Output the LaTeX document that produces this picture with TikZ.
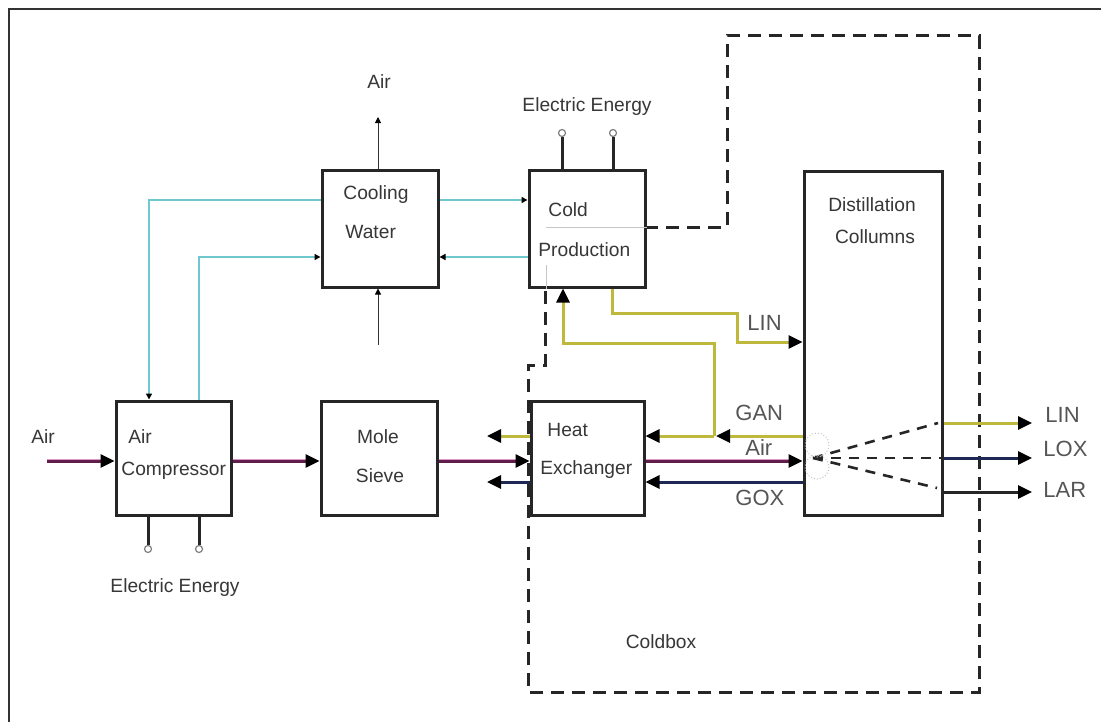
\documentclass[tikz,border=0pt]{standalone}
\usepackage{fontspec}
\setmainfont{Liberation Sans}
\usetikzlibrary{arrows.meta}
\definecolor{txt}{RGB}{55,55,55}
\definecolor{airc}{RGB}{95,30,75}
\definecolor{airglow}{RGB}{225,150,200}
\definecolor{yelc}{RGB}{190,185,60}
\definecolor{navyc}{RGB}{30,40,85}
\definecolor{cyanc}{RGB}{110,200,205}
\tikzset{
 box/.style={draw=black!85, line width=1.5pt, fill=white, inner sep=0pt},
 lbl/.style={text=txt, font=\fontsize{9.6}{11}\selectfont, inner sep=0pt},
 slbl/.style={text=txt!85, font=\fontsize{11}{13}\selectfont, inner sep=0pt},
 bigtip/.style={-{Triangle[length=7pt,width=6.5pt,color=black]}},
 smalltip/.style={-{Triangle[length=3pt,width=3pt,color=black]}},
 airline/.style={line width=1.5pt, draw=airc, preaction={draw=airglow, line width=2.4pt, -, shorten >=6pt}},
 yline/.style={line width=1.5pt, draw=yelc},
 nline/.style={line width=1.5pt, draw=navyc},
 cline/.style={line width=1.2pt, draw=cyanc},
 coldbox/.style={line width=1.5pt, draw=black!85, dash pattern=on 6.5pt off 4pt},
 fan/.style={line width=1.3pt, draw=black!85, dash pattern=on 5pt off 4pt},
 wire/.style={line width=1.3pt, draw=black!85},
 thinw/.style={line width=0.5pt, draw=black!80},
 term/.style={circle, draw=gray, fill=white, line width=0.6pt, minimum size=3.5pt, inner sep=0pt},
}
\begin{document}
\begin{tikzpicture}[x=0.5pt,y=-0.5pt]
\useasboundingbox (0,0) rectangle (1101,722);
\fill[white] (0,0) rectangle (1101,722);
\draw[line width=1pt, black!80] (9,722) -- (9,9) -- (1101,9);

% coldbox boundary
\draw[coldbox] (645,227) -- (727,227) -- (727,36) -- (979,36) -- (979,692)
  -- (528,692) -- (528,365) -- (545,365) -- (545,287);

% boxes
\node[box, minimum width=57.5pt, minimum height=57pt] (ac) at (173.5,458) {};
\node[box, minimum width=58pt, minimum height=57pt] (ms) at (379,458) {};
\node[box, minimum width=56.5pt, minimum height=57pt] (hx) at (587.5,458) {};
\node[box, minimum width=58pt, minimum height=58.5pt] (cw) at (380,228.5) {};
\node[box, minimum width=58pt, minimum height=58.5pt] (cp) at (587,228.5) {};
\node[box, minimum width=69pt, minimum height=172pt] (dc) at (873,343) {};

% faint traces inside cold production
\draw[gray!45, line width=0.5pt] (546,227) -- (cp.east |- 0,227);
\draw[gray!45, line width=0.5pt] (546,265) -- (546,0 |- cp.south);

% box texts
\node[lbl, anchor=west] (tac1) at (128,437) {Air};
\node[lbl, anchor=west] (tac2) at (121,471) {Compressor};
\node[lbl] (tms1) at (378,437) {Mole};
\node[lbl] (tms2) at (380,476) {Sieve};
\node[lbl, anchor=west] (thx1) at (547,430) {Heat};
\node[lbl, anchor=west] (thx2) at (540,470) {Exchanger};
\node[lbl, anchor=west] (tcw1) at (343,195) {Cooling};
\node[lbl, anchor=west] (tcw2) at (345,232) {Water};
\node[lbl, anchor=west] (tcp1) at (548,210) {Cold};
\node[lbl, anchor=west] (tcp2) at (538,250) {Production};
\node[lbl] (tdc1) at (872,205) {Distillation};
\node[lbl] (tdc2) at (875,237) {Collumns};
\node[lbl] (tcb) at (661,642) {Coldbox};
\node[lbl] (tee1) at (587,107) {Electric Energy};
\node[lbl] (tee2) at (175,588) {Electric Energy};
\node[lbl] (tairtop) at (379,82) {Air};
\node[lbl] (tairin) at (43,437) {Air};

% stream labels
\node[slbl, anchor=west] (lgan) at (735,413) {GAN};
\node[slbl, anchor=west] (lair) at (745,448) {Air};
\node[slbl, anchor=west] (lgox) at (735,498) {GOX};
\node[slbl, anchor=west] (llin) at (747,323) {LIN};
\node[slbl, anchor=west] (rlin) at (1045,415) {LIN};
\node[slbl, anchor=west] (rlox) at (1043,449) {LOX};
\node[slbl, anchor=west] (rlar) at (1043,490) {LAR};

% air stream
\coordinate (airsrc) at (47,461);
\draw[airline, bigtip] (airsrc) -- (ac.west |- 0,461);
\draw[airline, bigtip] (ac.east |- 0,461) -- (ms.west |- 0,461);
\draw[airline, bigtip] (ms.east |- 0,461) -- (hx.west |- 0,461);
\draw[airline, bigtip] (hx.east |- 0,461) -- (dc.west |- 0,461);

% GAN
\coordinate (gj) at (714,436);
\draw[yline, bigtip] (dc.west |- 0,436) -- (716,436);
\draw[yline, bigtip] (gj) -- (hx.east |- 0,436);
\draw[yline, bigtip] (gj) -- (714,343) -- (563,343) -- (563,0 |- cp.south);
% LIN to columns
\draw[yline, bigtip] (612,0 |- cp.south) -- (612,313) -- (737,313) -- (737,342) -- (dc.west |- 0,342);
% GOX
\draw[nline, bigtip] (dc.west |- 0,482) -- (hx.east |- 0,482);
% HX outlets
\coordinate (hxo1) at (487,436);
\coordinate (hxo2) at (487,482);
\draw[yline, bigtip] (hx.west |- 0,436) -- (hxo1);
\draw[nline, bigtip] (hx.west |- 0,482) -- (hxo2);

% products
\coordinate (plin) at (1032,423);
\coordinate (plox) at (1032,458);
\coordinate (plar) at (1032,492);
\draw[yline, bigtip] (dc.east |- 0,423) -- (plin);
\draw[nline, bigtip] (dc.east |- 0,458) -- (plox);
\draw[wire, line width=1.5pt, bigtip] (dc.east |- 0,492) -- (plar);

% fan inside columns
\coordinate (fo) at (813,458);
\draw[fan] (fo) -- (938,423);
\draw[fan] (fo) -- (dc.east |- 0,458);
\draw[fan] (fo) -- (937,488);
\draw[gray!45, densely dotted, line width=0.5pt] (817,445) circle[radius=12];
\draw[gray!45, densely dotted, line width=0.5pt] (817,467) circle[radius=12];

% cooling water
\draw[cline, smalltip] (cw.west |- 0,200) -- (149,200) -- (149,0 |- ac.north);
\draw[cline, smalltip] (199,0 |- ac.north) -- (199,257) -- (cw.west |- 0,257);
\draw[cline, smalltip] (cw.east |- 0,200) -- (cp.west |- 0,200);
\draw[cline, smalltip] (cp.west |- 0,257) -- (cw.east |- 0,257);
\coordinate (airout) at (378,117);
\coordinate (airsup) at (378,345);
\draw[thinw, smalltip] (378,0 |- cw.north) -- (airout);
\draw[thinw, smalltip] (airsup) -- (378,0 |- cw.south);

% electric energy
\node[term] (e1) at (562,133) {};
\node[term] (e2) at (613,133) {};
\node[term] (e3) at (148,549) {};
\node[term] (e4) at (199,549) {};
\draw[wire, line width=1.5pt] (562,0 |- cp.north) -- (e1);
\draw[wire, line width=1.5pt] (613,0 |- cp.north) -- (e2);
\draw[wire, line width=1.5pt] (148,0 |- ac.south) -- (e3);
\draw[wire, line width=1.5pt] (199,0 |- ac.south) -- (e4);
\end{tikzpicture}
\end{document}
